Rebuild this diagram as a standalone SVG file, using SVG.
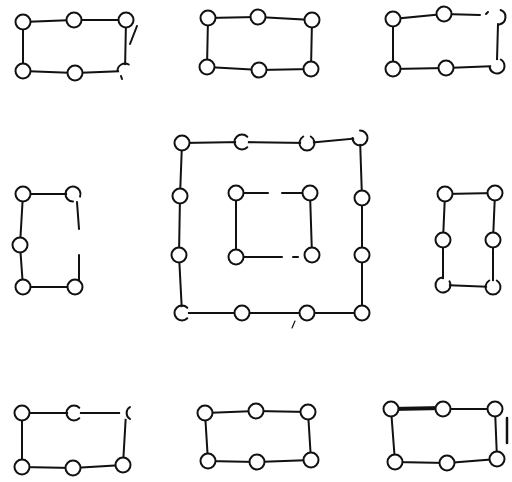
<svg xmlns="http://www.w3.org/2000/svg" width="512" height="482" viewBox="0 0 512 482">
<style>
.e{stroke:#111;stroke-width:2;fill:none;stroke-linecap:round}
.t{stroke:#111;stroke-width:4;fill:none;stroke-linecap:round}
.n{fill:#fff;stroke:#111;stroke-width:2}
.w{fill:#fff;stroke:none}
.a{fill:none;stroke:#111;stroke-width:2;stroke-linecap:round}
.d{fill:#111}
</style>
<rect width="512" height="482" fill="#fff"/>
<g id="connectors">
<!-- fig1 -->
<polyline class="e" points="23,71 23,22 74,20 126,20 125,71 75,73 23,71"/>
<line class="e" x1="130" y1="44" x2="137" y2="26"/>
<!-- fig2 -->
<polyline class="e" points="207,67 208,18 258,17 312,20 311,69 259,70 207,67"/>
<!-- fig3 -->
<polyline class="e" points="444,14 393,19 393,69 446,68 497,66"/>
<line class="e" x1="444" y1="14" x2="480" y2="15"/>
<line class="e" x1="486" y1="14" x2="488" y2="12"/>
<line class="e" x1="498" y1="24" x2="497" y2="60"/>
<!-- fig4 -->
<polyline class="e" points="73,194 23,194 20,245 23,287 75,287"/>
<line class="e" x1="77" y1="202" x2="79" y2="229"/>
<line class="e" x1="79" y1="255" x2="79" y2="282"/>
<!-- fig5 outer -->
<polyline class="e" points="182,143 242,142 307,143 360,138 362,198 362,255 362,313 307,313 242,313 182,313 179,255 180,196 182,143"/>
<!-- fig5 inner -->
<line class="e" x1="236" y1="193" x2="268" y2="193"/>
<line class="e" x1="282" y1="193" x2="310" y2="193"/>
<line class="e" x1="236" y1="193" x2="236" y2="257"/>
<line class="e" x1="310" y1="193" x2="312" y2="255"/>
<line class="e" x1="236" y1="257" x2="282" y2="257"/>
<line class="e" x1="293" y1="257" x2="298" y2="257"/>
<line class="e" x1="292" y1="328" x2="295" y2="321" style="stroke-width:1.2"/>
<!-- fig6 -->
<polyline class="e" points="443,285 443,240 445,194 495,193 493,240 493,287 443,285"/>
<!-- fig7 -->
<polyline class="e" points="126,413 74,413 22,413 22,467 73,468 123,465 126,413"/>
<!-- fig8 -->
<polyline class="e" points="205,413 256,411 308,412 311,460 257,462 208,461 205,413"/>
<!-- fig9 -->
<line class="t" x1="391" y1="409" x2="443" y2="408"/>
<polyline class="e" points="443,409 495,409 497,459 447,463 395,462 391,409"/>
<line class="t" x1="507" y1="418" x2="507" y2="443" style="stroke-width:2.5"/>
</g>
<g id="fig1">
<circle class="n" cx="23" cy="22" r="7.5"/>
<circle class="n" cx="74" cy="20" r="7.5"/>
<circle class="n" cx="126" cy="20" r="7.5"/>
<circle class="n" cx="23" cy="71" r="7.5"/>
<circle class="n" cx="75" cy="73" r="7.5"/>
<circle class="w" cx="125" cy="71" r="6"/>
<path class="a" d="M117.5,71 A7.5,7.5 0 0 1 128.75,64.5"/>
<path class="a" d="M121,76 L122,79"/>
</g>
<g id="fig2">
<circle class="n" cx="208" cy="18" r="7.5"/>
<circle class="n" cx="258" cy="17" r="7.5"/>
<circle class="n" cx="312" cy="20" r="7.5"/>
<circle class="n" cx="207" cy="67" r="7.5"/>
<circle class="n" cx="259" cy="70" r="7.5"/>
<circle class="n" cx="311" cy="69" r="7.5"/>
</g>
<g id="fig3">
<circle class="n" cx="393" cy="19" r="7.5"/>
<circle class="n" cx="444" cy="14" r="7.5"/>
<path class="a" d="M500.6,10 A7.5,7.5 0 0 1 499.3,24.4"/>
<circle class="n" cx="393" cy="69" r="7.5"/>
<circle class="n" cx="446" cy="68" r="7.5"/>
<circle class="w" cx="497" cy="66" r="6"/>
<path class="a" d="M500.75,59.5 A7.5,7.5 0 1 1 489.6,67.3"/>
</g>
<g id="fig4">
<circle class="n" cx="23" cy="194" r="7.5"/>
<circle class="w" cx="73" cy="194" r="6"/>
<path class="a" d="M73,201.5 A7.5,7.5 0 1 1 80.05,196.6"/>
<circle class="n" cx="20" cy="245" r="7.5"/>
<circle class="n" cx="23" cy="287" r="7.5"/>
<circle class="n" cx="75" cy="287" r="7.5"/>
</g>
<g id="fig5">
<circle class="n" cx="182" cy="143" r="7.5"/>
<circle class="w" cx="242" cy="142" r="6"/>
<path class="a" d="M247.3,147.3 A7.5,7.5 0 1 1 247.3,136.7"/>
<circle class="w" cx="307" cy="143" r="6"/>
<path class="a" d="M310.75,136.5 A7.5,7.5 0 1 1 303.25,136.5"/>
<circle class="w" cx="360" cy="138" r="6"/>
<path class="a" d="M360,130.5 A7.5,7.5 0 1 1 352.5,138"/>
<circle class="n" cx="180" cy="196" r="7.5"/>
<circle class="n" cx="179" cy="255" r="7.5"/>
<circle class="n" cx="362" cy="198" r="7.5"/>
<circle class="n" cx="362" cy="255" r="7.5"/>
<circle class="w" cx="182" cy="313" r="6"/>
<path class="a" d="M187.3,318.3 A7.5,7.5 0 1 1 187.3,307.7"/>
<circle class="n" cx="242" cy="313" r="7.5"/>
<circle class="n" cx="307" cy="313" r="7.5"/>
<circle class="n" cx="362" cy="313" r="7.5"/>
<circle class="n" cx="236" cy="193" r="7.5"/>
<circle class="n" cx="310" cy="193" r="7.5"/>
<circle class="n" cx="236" cy="257" r="7.5"/>
<circle class="n" cx="312" cy="255" r="7.5"/>
</g>
<g id="fig6">
<circle class="n" cx="445" cy="194" r="7.5"/>
<circle class="n" cx="495" cy="193" r="7.5"/>
<circle class="n" cx="443" cy="240" r="7.5"/>
<circle class="n" cx="493" cy="240" r="7.5"/>
<circle class="w" cx="443" cy="285" r="6"/>
<path class="a" d="M449.5,281.25 A7.5,7.5 0 1 1 443,277.5"/>
<circle class="w" cx="493" cy="287" r="6"/>
<path class="a" d="M496.75,280.5 A7.5,7.5 0 1 1 489.25,280.5"/>
</g>
<g id="fig7">
<circle class="n" cx="22" cy="413" r="7.5"/>
<circle class="w" cx="74" cy="413" r="6"/>
<path class="a" d="M79.3,418.3 A7.5,7.5 0 1 1 79.3,407.7"/>
<circle class="w" cx="126" cy="413" r="6"/>
<path class="a" d="M130,419 A7,7 0 0 1 130,407"/>
<circle class="n" cx="22" cy="467" r="7.5"/>
<circle class="n" cx="73" cy="468" r="7.5"/>
<circle class="n" cx="123" cy="465" r="7.5"/>
</g>
<g id="fig8">
<circle class="n" cx="205" cy="413" r="7.5"/>
<circle class="n" cx="256" cy="411" r="7.5"/>
<circle class="n" cx="308" cy="412" r="7.5"/>
<circle class="n" cx="208" cy="461" r="7.5"/>
<circle class="n" cx="257" cy="462" r="7.5"/>
<circle class="n" cx="311" cy="460" r="7.5"/>
</g>
<g id="fig9">
<circle class="n" cx="391" cy="409" r="7.5"/>
<circle class="n" cx="443" cy="409" r="7.5"/>
<circle class="n" cx="495" cy="409" r="7.5"/>
<circle class="n" cx="395" cy="462" r="7.5"/>
<circle class="n" cx="447" cy="463" r="7.5"/>
<circle class="n" cx="497" cy="459" r="7.5"/>
</g>
</svg>
